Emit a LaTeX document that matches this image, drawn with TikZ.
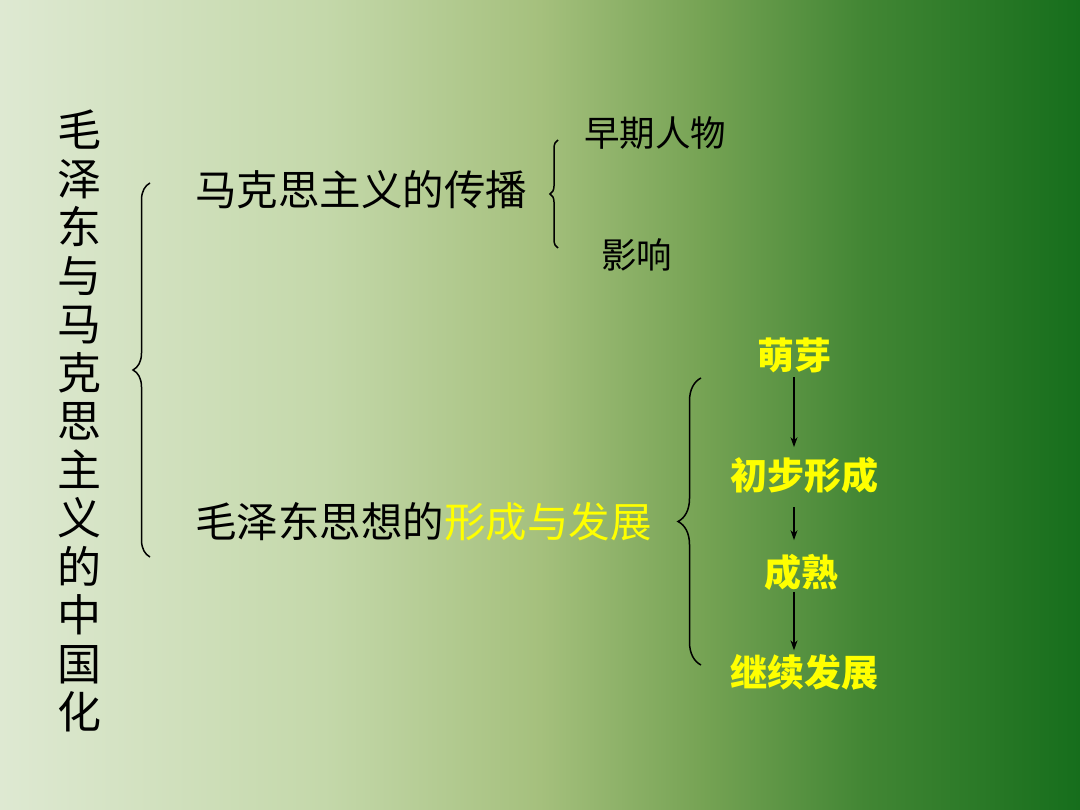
\documentclass[tikz,border=0pt]{standalone}
\usepackage{fontspec}
\usetikzlibrary{arrows.meta,decorations.pathreplacing}
\newfontfamily\cjk{Noto Sans CJK SC}
\definecolor{hl}{RGB}{255,255,0}
\definecolor{g0}{RGB}{222,233,210}
\definecolor{g1}{RGB}{196,216,170}
\definecolor{g2}{RGB}{165,192,125}
\definecolor{g3}{RGB}{118,163,84}
\definecolor{g4}{RGB}{66,134,52}
\definecolor{g5}{RGB}{22,110,28}
\pgfdeclarehorizontalshading{bgshade}{100bp}{color(0bp)=(g0); color(25bp)=(g0); color(40bp)=(g1); color(50bp)=(g2); color(57.5bp)=(g3); color(65bp)=(g4); color(75bp)=(g5); color(100bp)=(g5)}
\tikzset{
  title/.style={font=\cjk\fontsize{44}{48.5}\selectfont, align=center, inner sep=0pt},
  mainlbl/.style={font=\cjk\fontsize{41.5}{48}\selectfont, anchor=west, inner sep=0pt},
  sublbl/.style={font=\cjk\fontsize{35.5}{40}\selectfont, anchor=west, inner sep=0pt},
  stagelbl/.style={font=\cjk\bfseries\fontsize{37}{42}\selectfont, text=hl, inner sep=0pt},
  brc/.style={decorate, line width=1.5pt, black},
  arr/.style={-{Stealth[length=10pt,width=7pt]}, line width=1.3pt, black}
}
\begin{document}
\begin{tikzpicture}[x=1pt,y=-1pt]
\shade[shading=bgshade] (0,0) rectangle (1080,810);
\useasboundingbox (0,0) rectangle (1080,810);
% title
\node[title] (title) at (79,421) {毛\\泽\\东\\与\\马\\克\\思\\主\\义\\的\\中\\国\\化};
% big brace
\coordinate (b1top) at (150,183);
\coordinate (b1bot) at (150,557);
\draw[brc, decoration={brace,amplitude=17pt}] (b1bot) -- (b1top);
% branch 1
\node[mainlbl] (spread) at (195,190) {马克思主义的传播};
\coordinate (b2top) at (558,140);
\coordinate (b2bot) at (558,248);
\draw[brc, decoration={brace,amplitude=8pt}] (b2bot) -- (b2top);
\node[sublbl] (early) at (584,133) {早期人物};
\node[sublbl] (impact) at (601,255) {影响};
% branch 2
\node[mainlbl] (develop) at (195,522) {毛泽东思想的\textcolor{hl}{形成与发展}};
\coordinate (b3top) at (701,378);
\coordinate (b3bot) at (701,665);
\draw[brc, decoration={brace,amplitude=23pt}] (b3bot) -- (b3top);
\node[stagelbl] (mengya) at (794,355) {萌芽};
\node[stagelbl] (chubu) at (804,475) {初步形成};
\node[stagelbl] (chengshu) at (801,572) {成熟};
\node[stagelbl] (jixu) at (804,672) {继续发展};
\draw[arr, shorten <=4.5pt, shorten >=9.5pt] (mengya.south) -- (mengya.south |- chubu.north);
\draw[arr, shorten <=14pt, shorten >=13.5pt] (mengya.south |- chubu.south) -- (mengya.south |- chengshu.north);
\draw[arr, shorten <=1.5pt, shorten >=3.5pt] (mengya.south |- chengshu.south) -- (mengya.south |- jixu.north);
\end{tikzpicture}
\end{document}
